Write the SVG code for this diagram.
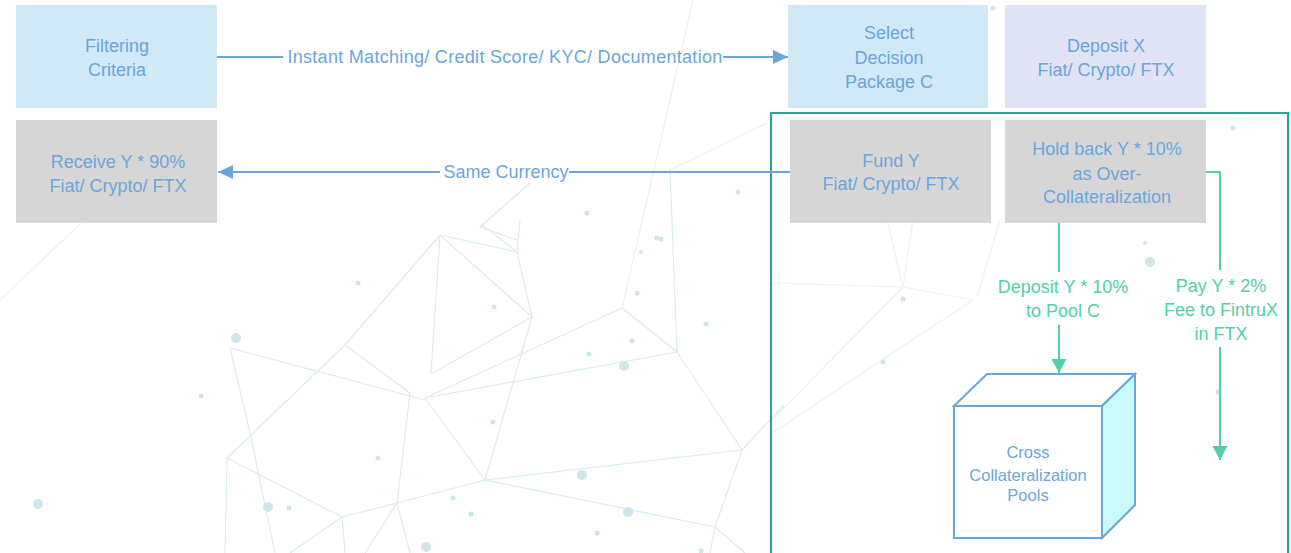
<svg xmlns="http://www.w3.org/2000/svg" width="1291" height="553" viewBox="0 0 1291 553">
<style>
.bg line,.bg polyline{stroke:#dcecec;stroke-width:1.2;fill:none}
.bg circle{fill:#cfe5e8}
.box text,.lbl{font-family:"Liberation Sans",Arial,sans-serif;font-size:18px;text-anchor:middle}
.box text{fill:#6aa6da}
.blue{fill:#d1e8f6}
.lav{fill:#dfe3f5}
.gray{fill:#d6d6d6}
.cb{stroke:#6aa6da;stroke-width:2;fill:none}
.cg{stroke:#52cfa8;stroke-width:2;fill:none}
.lbl.b{fill:#6aa6da}
.lbl.g{fill:#52cfa8}
</style>
<defs>
<marker id="ab" markerUnits="userSpaceOnUse" markerWidth="16" markerHeight="14" refX="15" refY="7" orient="auto"><path d="M0,0 L15,7 L0,14 Z" fill="#6aa6da"/></marker>
<marker id="ag" markerUnits="userSpaceOnUse" markerWidth="16" markerHeight="16" refX="14" refY="7.5" orient="auto"><path d="M0,0 L14,7.5 L0,15 Z" fill="#52cfa8"/></marker>
</defs>
<rect width="1291" height="553" fill="#ffffff"/>
<g class="bg" id="background">
<line x1="440" y1="235" x2="345" y2="345"/>
<line x1="440" y1="235" x2="431" y2="374"/>
<line x1="440" y1="235" x2="532" y2="317"/>
<line x1="440" y1="235" x2="517" y2="252"/>
<line x1="517" y1="252" x2="532" y2="317"/>
<line x1="520" y1="220" x2="517" y2="252"/>
<line x1="482" y1="225" x2="517" y2="252"/>
<polyline points="530,183 480,227 517,240"/>
<line x1="532" y1="317" x2="431" y2="374"/>
<line x1="532" y1="317" x2="485" y2="480"/>
<line x1="345" y1="345" x2="410" y2="393"/>
<line x1="345" y1="345" x2="227" y2="458"/>
<line x1="230" y1="348" x2="425" y2="400"/>
<polyline points="230,348 250,433 275,553"/>
<line x1="227" y1="458" x2="342" y2="517"/>
<line x1="227" y1="458" x2="225" y2="553"/>
<line x1="410" y1="393" x2="397" y2="503"/>
<line x1="425" y1="398" x2="485" y2="480"/>
<line x1="425" y1="398" x2="622" y2="308"/>
<line x1="430" y1="397" x2="677" y2="352"/>
<line x1="693" y1="0" x2="622" y2="308" style="stroke:#e8f3f3"/>
<line x1="622" y1="308" x2="677" y2="352"/>
<line x1="670" y1="170" x2="677" y2="352"/>
<line x1="670" y1="170" x2="767" y2="123" style="stroke:#e8f3f3"/>
<line x1="677" y1="352" x2="742" y2="450"/>
<line x1="485" y1="480" x2="742" y2="450"/>
<line x1="485" y1="480" x2="715" y2="527"/>
<line x1="742" y1="450" x2="715" y2="527"/>
<line x1="742" y1="450" x2="784" y2="405"/>
<polyline points="342,517 397,503 485,480"/>
<line x1="342" y1="517" x2="345" y2="553"/>
<line x1="342" y1="517" x2="290" y2="553"/>
<line x1="397" y1="503" x2="365" y2="553"/>
<line x1="397" y1="503" x2="410" y2="553"/>
<line x1="715" y1="527" x2="710" y2="553"/>
<line x1="715" y1="527" x2="745" y2="553"/>
<line x1="0" y1="300" x2="100" y2="205" style="stroke:#e8f3f3"/>
<g style="opacity:0.6">
<line x1="903" y1="287" x2="913" y2="220"/>
<line x1="903" y1="287" x2="887" y2="220"/>
<line x1="903" y1="287" x2="772" y2="283"/>
<line x1="903" y1="287" x2="973" y2="300"/>
<line x1="903" y1="287" x2="772" y2="420"/>
<line x1="973" y1="300" x2="772" y2="433"/>
<line x1="1000" y1="220" x2="977" y2="297"/>
</g>
<circle cx="236" cy="338" r="5"/>
<circle cx="38" cy="504" r="5"/>
<circle cx="358" cy="283" r="2.5"/>
<circle cx="494" cy="307" r="2.5"/>
<circle cx="661" cy="239" r="2.5"/>
<circle cx="641" cy="252" r="2"/>
<circle cx="637" cy="293" r="2.5"/>
<circle cx="706" cy="324" r="2.5"/>
<circle cx="632" cy="341" r="2.5"/>
<circle cx="589" cy="354" r="2.5"/>
<circle cx="624" cy="366" r="5"/>
<circle cx="201" cy="396" r="2.5"/>
<circle cx="493" cy="422" r="2.5"/>
<circle cx="378" cy="458" r="2.5"/>
<circle cx="582" cy="475" r="5"/>
<circle cx="268" cy="507" r="5"/>
<circle cx="289" cy="508" r="2.5"/>
<circle cx="453" cy="498" r="2.5"/>
<circle cx="471" cy="514" r="2.5"/>
<circle cx="628" cy="512" r="5"/>
<circle cx="597" cy="533" r="2.5"/>
<circle cx="426" cy="547" r="5"/>
<circle cx="701" cy="551" r="2.5"/>
<circle cx="993" cy="8" r="2.5"/>
<circle cx="1233" cy="128" r="2.5"/>
<circle cx="1145" cy="243" r="2"/>
<circle cx="1150" cy="262" r="5"/>
<circle cx="903" cy="299" r="2.5"/>
<circle cx="883" cy="362" r="2.5"/>
<circle cx="1218" cy="392" r="2.5"/>
<circle cx="738" cy="192" r="2.5"/>
<circle cx="587" cy="213" r="2.5"/>
<circle cx="657" cy="238" r="2.5"/>
</g>
<rect id="frame" x="771" y="113" width="517" height="460" fill="none" stroke="#28a48f" stroke-width="2"/>
<g id="filtering" class="box"><rect class="blue" x="16" y="5" width="201" height="103"/><text x="117" y="52">Filtering</text><text x="117" y="76">Criteria</text></g>
<g id="select" class="box"><rect class="blue" x="788" y="5" width="200" height="103"/><text x="889" y="39">Select</text><text x="889" y="64">Decision</text><text x="889" y="88">Package C</text></g>
<g id="depositx" class="box"><rect class="lav" x="1005" y="5" width="201" height="103"/><text x="1106" y="52">Deposit X</text><text x="1106" y="76">Fiat/ Crypto/ FTX</text></g>
<g id="receive" class="box"><rect class="gray" x="16" y="120" width="201" height="103"/><text x="118" y="168">Receive Y *  90%</text><text x="118" y="192">Fiat/ Crypto/ FTX</text></g>
<g id="fund" class="box"><rect class="gray" x="790" y="120" width="201" height="103"/><text x="891" y="167">Fund Y</text><text x="891" y="190">Fiat/ Crypto/ FTX</text></g>
<g id="holdback" class="box"><rect class="gray" x="1005" y="120" width="201" height="103"/><text x="1107" y="155">Hold back Y *  10%</text><text x="1107" y="180">as Over-</text><text x="1107" y="203">Collateralization</text></g>
<g id="pools" class="box">
<path d="M954,406 L987,374 L1135,374 L1102,406 Z" fill="#ffffff" stroke="#6aa6da" stroke-width="2"/>
<path d="M1102,406 L1135,374 L1135,505 L1102,538 Z" fill="#c9fbfe" stroke="#6aa6da" stroke-width="2"/>
<rect x="954" y="406" width="148" height="132" fill="#ffffff" stroke="#6aa6da" stroke-width="2"/>
<text x="1028" y="458" style="font-size:16.5px">Cross</text><text x="1028" y="481" style="font-size:16.5px">Collateralization</text><text x="1028" y="501" style="font-size:16.5px">Pools</text>
</g>
<g id="connectors">
<path class="cb" d="M217,57 H283"/>
<path class="cb" d="M723,57 H788" marker-end="url(#ab)"/>
<text class="lbl b" x="505" y="63" style="letter-spacing:0.3px">Instant Matching/ Credit Score/ KYC/ Documentation</text>
<path class="cb" d="M790,172 H569"/>
<path class="cb" d="M440,172 H218" marker-end="url(#ab)"/>
<text class="lbl b" x="506" y="178">Same Currency</text>
<path class="cg" d="M1206,172 H1220 V270"/>
<path class="cg" d="M1220,347 V460" marker-end="url(#ag)"/>
<text class="lbl g" x="1221" y="292">Pay Y *  2%</text>
<text class="lbl g" x="1221" y="316">Fee to FintruX</text>
<text class="lbl g" x="1221" y="340">in FTX</text>
<path class="cg" d="M1059,223 V272"/>
<path class="cg" d="M1059,325 V373" marker-end="url(#ag)"/>
<text class="lbl g" x="1063" y="293">Deposit Y *  10%</text>
<text class="lbl g" x="1063" y="317">to Pool C</text>
</g>
</svg>
